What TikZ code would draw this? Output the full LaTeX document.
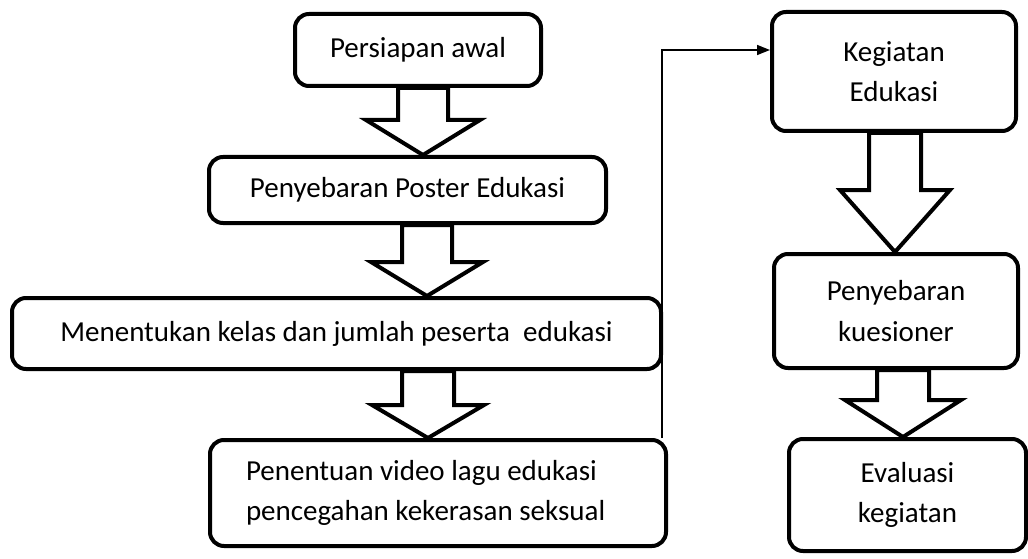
\documentclass[tikz,border=0pt]{standalone}
\usepackage{fontspec}
\setmainfont{Carlito}
\usetikzlibrary{arrows.meta,calc}
\tikzset{
  box/.style={draw, line width=4pt, rounded corners=14pt, fill=white, align=center,
    inner sep=0pt, font=\fontsize{29}{40.5}\selectfont},
  blockarr/.style={draw, line width=4pt, fill=white, line join=miter},
  conn/.style={draw, line width=1.5pt, -{Triangle[length=13pt,width=10pt]}}
}
\newcommand\barrow[6]{%
  \path[blockarr] let \p1=(#1,0 |- #2.south), \p2=(#1,0 |- #3.north), \p3=(#1,#4) in
  (\x1-#5,\y1) -- (\x1-#5,\y3) -- (\x1-#6,\y3) -- (\x2,\y2) -- (\x1+#6,\y3) -- (\x1+#5,\y3) -- (\x1+#5,\y1) -- cycle;}
\begin{document}
\begin{tikzpicture}[x=1pt,y=-1pt]
\useasboundingbox (0,0) rectangle (1028,559);
\node[box, minimum width=246pt, minimum height=72pt] (b1) at (418,50) {Persiapan awal};
\node[box, minimum width=397pt, minimum height=66pt] (b2) at (407.5,190) {Penyebaran Poster Edukasi};
\node[box, minimum width=649pt, minimum height=71pt] (b3) at (336.5,333.5) {Menentukan kelas dan jumlah peserta\ \ edukasi};
\node[box, align=flush left, text width=384pt, inner xsep=36pt, minimum height=106pt] (b4) at (438,493) {Penentuan video lagu edukasi\\pencegahan kekerasan seksual};
\node[box, minimum width=244pt, minimum height=119pt] (b5) at (894,71.5) {Kegiatan\\Edukasi};
\node[box, minimum width=244pt, minimum height=114pt] (b6) at (896,311) {Penyebaran\\kuesioner};
\node[box, minimum width=237pt, minimum height=112pt] (b7) at (907.5,495) {Evaluasi\\kegiatan};
\barrow{423}{b1}{b2}{120}{25}{57}
\barrow{427}{b2}{b3}{262}{25}{56}
\barrow{428}{b3}{b4}{405}{26}{56}
\barrow{895}{b5}{b6}{190}{26}{55}
\barrow{903}{b6}{b7}{400}{26}{58}
\coordinate (c1) at (662,50);
\draw[conn] (c1 |- b4.north) -- (c1) -- (b5.west |- c1);
\end{tikzpicture}
\end{document}
